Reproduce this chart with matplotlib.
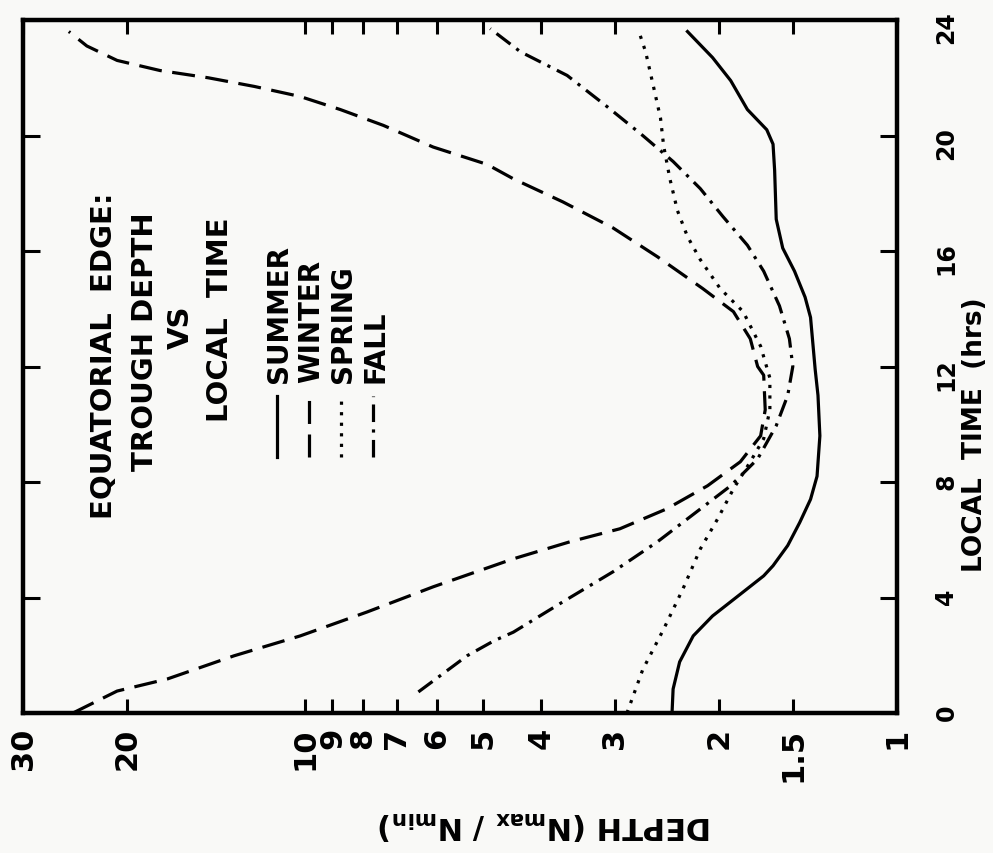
import matplotlib.pyplot as plt
from matplotlib.lines import Line2D

# the chart is drawn turned a quarter turn: depth runs along the bottom (log, reversed),
# local time runs up the right side
summer_t = [0, 0.83, 1.77, 2.67, 3.36, 4.19, 4.75, 5.1, 5.8, 6.6, 7.4, 8.2, 9.6, 11.0, 11.9,
            13.7, 14.4, 15.3, 16.1, 17.1, 18.8, 19.7, 20.2, 20.9, 21.9, 22.7, 23.6]
summer_d = [2.40, 2.39, 2.33, 2.21, 2.05, 1.82, 1.68, 1.62, 1.53, 1.46, 1.40, 1.365, 1.35,
            1.36, 1.375, 1.40, 1.43, 1.49, 1.56, 1.60, 1.61, 1.62, 1.66, 1.79, 1.91, 2.05, 2.26]

winter_t = [0, 0.76, 1.18, 1.98, 2.67, 3.5, 4.37, 5.34, 5.93, 6.38, 7.07, 7.87, 8.7,
            9.6, 10.5, 11.7, 12.0, 12.96, 13.9, 14.7, 15.8, 16.8, 17.7, 18.5, 19.0, 19.6,
            20.35, 20.9, 21.35, 21.7, 22.0, 22.25, 22.6, 23.1, 23.6]
winter_d = [24.7, 20.8, 17.1, 13.2, 10.2, 7.86, 6.08, 4.45, 3.57, 2.94, 2.45, 2.09, 1.84,
            1.70, 1.67, 1.68, 1.72, 1.77, 1.89, 2.13, 2.54, 3.02, 3.67, 4.45, 4.93, 6.08,
            7.38, 8.73, 10.2, 12.2, 14.6, 17.6, 20.8, 23.4, 25.1]

spring_t = [0, 1.5, 2.9, 4.3, 5.68, 6.72, 7.76, 8.7, 9.5, 10.5, 11.6, 12.7, 13.9, 14.7, 15.7,
            16.5, 17.4, 18.5, 19.65, 20.6, 21.7, 22.9, 23.5]
spring_d = [2.86, 2.69, 2.48, 2.30, 2.15, 2.01, 1.89, 1.77, 1.68, 1.64, 1.64, 1.70, 1.82, 1.99,
            2.15, 2.26, 2.35, 2.42, 2.48, 2.51, 2.58, 2.66, 2.72]

fall_t = [0.73, 1.98, 2.5, 2.8, 3.85, 4.89, 5.93, 6.97, 7.87, 8.8, 9.95, 11.0, 12.0, 12.96,
          14.1, 15.3, 16.2, 17.2, 18.16, 19.1, 20.0, 21.0, 22.08, 22.9, 23.7]
fall_d = [6.44, 5.33, 4.8, 4.45, 3.67, 3.02, 2.54, 2.18, 1.91, 1.72, 1.60, 1.53, 1.50, 1.52,
          1.58, 1.68, 1.79, 1.97, 2.15, 2.39, 2.69, 3.09, 3.61, 4.33, 4.87]

depth_ticks = [1, 1.5, 2, 3, 4, 5, 6, 7, 8, 9, 10, 20, 30]
depth_labels = ['1', '1.5', '2', '3', '4', '5', '6', '7', '8', '9', '10', '20', '30']
time_ticks = [0, 4, 8, 12, 16, 20, 24]

seasons = ['SUMMER', 'WINTER', 'SPRING', 'FALL']
styles = ['-', (0, (7.2, 3.3)), (0, (1, 2.3)), (0, (5.5, 2.3, 1, 2.3))]

bg = '#f9f9f7'
plt.rcParams['font.family'] = 'DejaVu Sans'
plt.rcParams['font.weight'] = 'bold'

W, H = 993, 854
fig = plt.figure(figsize=(W / 100, H / 100), dpi=100, facecolor=bg)
ax = fig.add_axes([23 / W, 1 - 714 / H, (897 - 23) / W, (714 - 21) / H], facecolor=bg)

lw = 2.3
for t, d, ls in zip([summer_t, winter_t, spring_t, fall_t],
                    [summer_d, winter_d, spring_d, fall_d], styles):
    ax.plot(d, t, color='black', lw=lw, linestyle=ls, solid_joinstyle='round')

ax.set_xscale('log')
ax.set_xlim(30, 1)
ax.set_ylim(0, 24)
ax.set_xticks(depth_ticks)
ax.set_xticklabels(depth_labels, rotation=90, fontsize=22, fontweight='bold')
ax.xaxis.set_minor_locator(plt.NullLocator())
ax.set_yticks(time_ticks)
ax.set_yticklabels([str(v) for v in time_ticks], rotation=90, fontsize=17, fontweight='bold')
ax.yaxis.tick_right()
ax.tick_params(axis='x', direction='in', top=True, bottom=True, length=10, width=2.2, pad=10)
ax.tick_params(axis='y', direction='in', left=True, right=True, labelleft=False,
               labelright=True, length=12, width=2.2, pad=27)
for sp in ax.spines.values():
    sp.set_linewidth(3.2)

# axis titles
fig.text(975 / W, 1 - 435 / H, 'LOCAL  TIME  (hrs)', rotation=90, ha='center', va='center',
         fontsize=19, fontweight='bold')
fig.text(545 / W, 1 - 825 / H, r'DEPTH (N$_{\mathbf{max}}$ / N$_{\mathbf{min}}$)',
         rotation=180, ha='center', va='center', fontsize=22, fontweight='bold')

# title block
title_lines = [('EQUATORIAL  EDGE:', 104, 356), ('TROUGH DEPTH', 145, 342),
               ('VS', 181, 327), ('LOCAL  TIME', 220, 320)]
for s, x, y in title_lines:
    fig.text(x / W, 1 - y / H, s, rotation=90, ha='center', va='center',
             fontsize=21, fontweight='bold')

# legend
leg_x = [277, 309, 341, 373]
for name, ls, x in zip(seasons, styles, leg_x):
    fig.add_artist(Line2D([x / W, x / W], [1 - 458 / H, 1 - 397 / H], color='black',
                          lw=lw, linestyle=ls, transform=fig.transFigure))
    fig.text((x + 2) / W, 1 - 383 / H, name, rotation=90, ha='center', va='bottom',
             fontsize=20, fontweight='bold')

fig.savefig('out.png', dpi=100, facecolor=bg)
